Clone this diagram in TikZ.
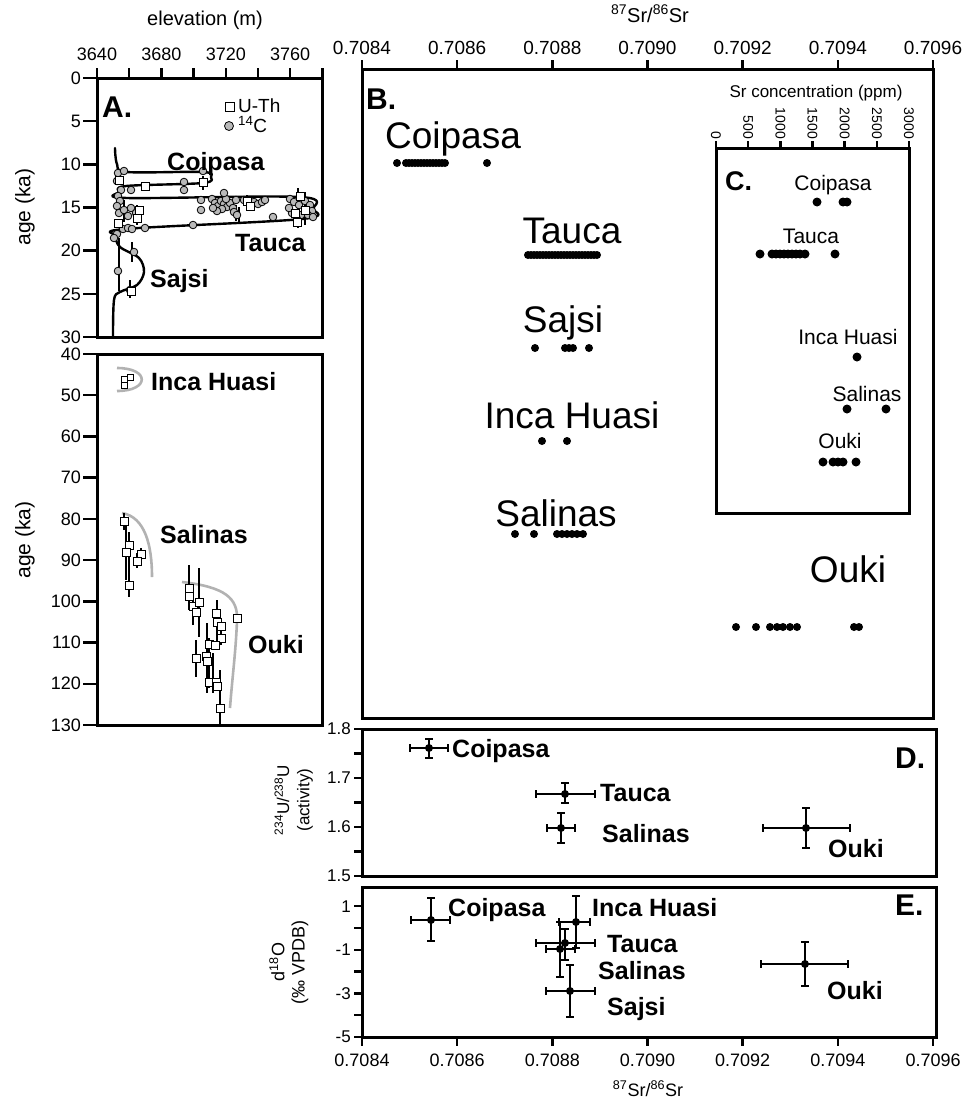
\documentclass[tikz,border=0pt]{standalone}
\usepackage{fontspec}
\setmainfont{Liberation Sans}
\usetikzlibrary{positioning}
\newcommand\sz[1]{\fontsize{#1}{#1}\selectfont}

\begin{document}
\begin{tikzpicture}[x=1pt, y=-1pt,
    frame/.style={line width=3pt},
    tick/.style={line width=2.4pt},
    lake/.style={line width=2.4pt, line join=round, line cap=round},
    glake/.style={line width=2.6pt, gray!60},
    agebar/.style={line width=1.8pt},
    err/.style={line width=1.2pt},
    uth/.style={draw=black, fill=white, line width=1pt},
    carbon/.style={draw=black, fill=gray!55, line width=0.8pt},
    ticklabel/.style={font=\sz{18}, inner sep=1pt},
    bigname/.style={font=\sz{37}, inner sep=0pt, anchor=base},
    smallname/.style={font=\sz{21}, inner sep=0pt, anchor=base},
    boldname/.style={font=\bfseries\sz{25}, inner sep=0pt, anchor=base west},
    panel/.style={font=\bfseries\sz{30}, inner sep=0pt, anchor=base west},
  ]
\useasboundingbox (0,0) rectangle (964,1103);

% ---- panel A, upper part
\draw[frame] (97,78) rectangle (322,337);
\foreach \k in {0,...,7}
  \draw[tick] (97+\k*32.2,78) -- ++(0,-10);
\foreach \e [count=\i from 0] in {3640,3680,3720,3760}
  \node[ticklabel, anchor=base] (el\e) at (97+\i*64.4,60) {\e};
\node[font=\sz{20}, anchor=base] (elev) at (205,25) {elevation (m)};
\foreach \a in {0,5,...,30}
  \draw[tick] (97,78+\a*8.633) -- ++(-14,0) node[ticklabel, anchor=east] (agt\a) {\a};
\node[font=\sz{21}, rotate=90] (ageA) at (25,207) {age (ka)};
\node[panel] (labA) at (102,117) {A.};

% lake level curve
\draw[lake] plot[smooth, tension=0.55] coordinates {(115,148) (117,164) (127,172) (203,172)
  (211,177) (203,183) (126,186) (119,192) (127,198) (300,197) (313,209) (302,219) (125,229)
  (116,236) (120,247) (139,258) (144,272) (137,285) (120,292) (114,300) (113,337)};

\foreach \x/\ya/\yb in {132/242/262, 119/238/291, 130/280/298, 203/176/190, 298/188/228,
    305/192/225, 236/205/221, 239/207/223, 247/195/210, 137/205/225, 124/200/222, 184/180/193}
  \draw[agebar] (\x,\ya) -- (\x,\yb);
\foreach \x/\y in {118/173, 124/171, 117/181, 121/190, 131/190, 118/196, 184/182, 184/190, 203/171,
    201/200, 201/210, 212/199, 215/203, 218/206, 221/201, 224/204, 227/207, 222/209, 217/211,
    213/208, 230/203, 233/208, 226/199, 236/200, 224/193, 234/212, 237/215, 244/200, 254/202,
    258/204, 262/202, 265/200, 290/199, 294/202, 299/205, 305/201, 310/205, 312/211, 308/215,
    301/215, 292/213, 297/219, 289/208, 313/217, 273/217, 193/225, 120/201, 117/206, 119/213,
    124/210, 128/216, 131/208, 136/213, 145/228, 123/229, 128/228, 132/229, 117/234, 114/238,
    134/252, 118/271, 130/290}
  \draw[carbon] (\x,\y) circle (3.8pt);
\foreach \x/\y in {119/180, 145/186, 203/182, 247/201, 250/206, 300/196, 305/210, 295/213,
    297/222, 139/210, 137/218, 118/223, 131/291}
  \draw[uth] (\x,\y) +(-4pt,-4pt) rectangle +(4pt,4pt);

% legend
\draw[uth] (230,107) +(-4.5pt,-4.5pt) rectangle +(4.5pt,4.5pt);
\node[font=\sz{19}, inner sep=0pt, anchor=base west] (legU) at (238,112) {U-Th};
\draw[carbon] (229,126) circle (4.5pt);
\node[font=\sz{19}, inner sep=0pt, anchor=base west] (legC) at (238,132) {\textsuperscript{14}C};

\node[boldname] (coipA) at (167,170) {Coipasa};
\node[boldname] (taucaA) at (235,251) {Tauca};
\node[boldname] (sajsiA) at (150,287) {Sajsi};

% ---- panel A, lower part
\draw[frame] (97,354) rectangle (322,725);
\foreach \a in {40,50,...,130}
  \draw[tick] (97,{354+(\a-40)*4.122}) -- ++(-14,0) node[ticklabel, anchor=east] (agb\a) {\a};
\node[font=\sz{21}, rotate=90] (ageB) at (25,540) {age (ka)};

\draw[glake] (117,368) .. controls (150,368) and (150,391) .. (117,391);
\draw[glake] (122,513) .. controls (145,517) and (152,545) .. (152,577);
\draw[glake] (182,582) .. controls (225,587) and (238,598) .. (237,620)
  .. controls (236,650) and (232,680) .. (230,708);

\foreach \x/\ya/\yb in {124/513/530, 126/525/580, 129/532/597, 137/553/568, 141/548/560,
    189/565/610, 199/568/637, 196/640/677, 207/623/693, 213/653/693, 217/600/647,
    220/670/725, 221/620/645, 209/638/688, 193/600/625}
  \draw[agebar] (\x,\ya) -- (\x,\yb);
\foreach \x/\y in {124/385, 124/379, 130/377}
  \draw[uth] (\x,\y) +(-3pt,-3pt) rectangle +(3pt,3pt);
\foreach \x/\y in {124/521, 129/545, 126/552, 141/554, 137/561, 129/585,
    189/588, 189/596, 193/606, 196/612, 199/602, 196/658, 206/656, 207/661, 209/644,
    216/613, 217/622, 221/626, 221/638, 215/645, 209/682, 216/682, 217/686, 220/708, 237/618}
  \draw[uth] (\x,\y) +(-4pt,-4pt) rectangle +(4pt,4pt);

\node[boldname] (incaA) at (151,390) {Inca Huasi};
\node[boldname] (salA) at (160,543) {Salinas};
\node[boldname] (oukiA) at (248,653) {Ouki};

% ---- panel B
\draw[frame] (362,69) rectangle (933,718);
\foreach \r [count=\i from 0] in {0.7084,0.7086,0.7088,0.7090,0.7092,0.7094,0.7096} {
  \draw[tick] (362+\i*95.17,69) -- ++(0,-9);
  \node[ticklabel, font=\sz{19}, anchor=base] (bt\i) at (362+\i*95.17,54) {\r};
}
\node[font=\sz{20}, anchor=base] (srB) at (650,22) {\textsuperscript{87}Sr/\textsuperscript{86}Sr};
\node[panel] (labB) at (366,109) {B.};

\node[bigname] (coipB) at (453,148) {Coipasa};
\fill (397,163) circle (4pt) (487,163) circle (4pt);
\foreach \x in {406,409,...,445} \fill (\x,163) circle (4pt);
\node[bigname] (taucaB) at (572,243) {Tauca};
\foreach \x in {528,531,...,597} \fill (\x,255) circle (4pt);
\node[bigname] (sajsiB) at (563,332) {Sajsi};
\foreach \x in {535,565,569,573,589} \fill (\x,348) circle (4pt);
\node[bigname] (incaB) at (572,428) {Inca Huasi};
\foreach \x in {542,567} \fill (\x,441) circle (4pt);
\node[bigname] (salB) at (556,526) {Salinas};
\foreach \x in {515,534,557,562,567,572,577,583} \fill (\x,534) circle (4pt);
\node[bigname] (oukiB) at (848,582) {Ouki};
\foreach \x in {736,756,770,777,783,790,797,854,859} \fill (\x,627) circle (4pt);

% ---- panel C
\draw[frame] (716,148) rectangle (909,513);
\foreach \c [count=\i from 0] in {0,500,1000,1500,2000,2500,3000} {
  \draw[tick] (716+\i*32.17,148) -- ++(0,-7);
  \node[font=\sz{14}, inner sep=1pt, rotate=-90, anchor=east] (ct\i) at (716+\i*32.17,140) {\c};
}
\node[font=\sz{17}, anchor=base] (srC) at (816,97) {Sr concentration (ppm)};
\node[panel, font=\bfseries\sz{27}] (labC) at (725,190) {C.};

\node[smallname] (coipC) at (833,190) {Coipasa};
\foreach \x in {817,843,847} \fill (\x,202) circle (4.5pt);
\node[smallname] (taucaC) at (811,243) {Tauca};
\foreach \x in {760,772,776,780,784,788,792,796,800,805,835} \fill (\x,254) circle (4.5pt);
\node[smallname] (incaC) at (848,344) {Inca Huasi};
\fill (857,357) circle (4.5pt);
\node[smallname] (salC) at (867,401) {Salinas};
\foreach \x in {847,886} \fill (\x,409) circle (4.5pt);
\node[smallname] (oukiC) at (840,448) {Ouki};
\foreach \x in {823,833,838,843,856} \fill (\x,462) circle (4.5pt);

% ---- panel D
\draw[frame] (362,729) rectangle (936,876);
\foreach \k in {0,...,6}
  \draw[tick] (362,729+\k*24.5) -- ++(-8,0);
\foreach \k/\v in {0/1.8,2/1.7,4/1.6,6/1.5}
  \node[ticklabel, font=\sz{17}, anchor=east] (dt\k) at (352,729+\k*24.5) {\v};
\node[font=\sz{17}, rotate=90] (uD) at (282,800) {\textsuperscript{234}U/\textsuperscript{238}U};
\node[font=\sz{17}, rotate=90] (actD) at (305,800) {(activity)};
\node[panel] (labD) at (895,768) {D.};

\foreach \px/\py/\xa/\xb/\ya/\yb in {429/748/410/448/739/758, 565/794/536/595/783/803,
    561/828/547/575/813/843, 806/828/763/850/808/848} {
  \draw[err] (\xa,\py) -- (\xb,\py) (\px,\ya) -- (\px,\yb)
    (\xa,\py-4) -- (\xa,\py+4) (\xb,\py-4) -- (\xb,\py+4)
    (\px-4,\ya) -- (\px+4,\ya) (\px-4,\yb) -- (\px+4,\yb);
  \fill (\px,\py) circle (4pt);
}
\node[boldname] (coipD) at (452,757) {Coipasa};
\node[boldname] (taucaD) at (600,801) {Tauca};
\node[boldname] (salD) at (602,842) {Salinas};
\node[boldname] (oukiD) at (828,857) {Ouki};

% ---- panel E
\draw[frame] (362,887) rectangle (936,1037);
\foreach \k in {0,...,6}
  \draw[tick] (362,1037-\k*21.8) -- ++(-8,0);
\foreach \k/\v in {0/-5,2/-3,4/-1,6/1}
  \node[ticklabel, font=\sz{17}, anchor=east] (et\k) at (352,1037-\k*21.8) {\v};
\foreach \r [count=\i from 0] in {0.7084,0.7086,0.7088,0.7090,0.7092,0.7094,0.7096} {
  \draw[tick] (362+\i*95.17,1037) -- ++(0,9);
  \node[ticklabel, anchor=base] (eb\i) at (362+\i*95.17,1066) {\r};
}
\node[font=\sz{18}, anchor=base] (srE) at (648,1096) {\textsuperscript{87}Sr/\textsuperscript{86}Sr};
\node[font=\sz{18}, rotate=90] (dE) at (277,962) {d\textsuperscript{18}O};
\node[font=\sz{18}, rotate=90] (vpdbE) at (300,962) {(‰ VPDB)};
\node[panel] (labE) at (895,915) {E.};

\foreach \px/\py/\xa/\xb/\ya/\yb in {431/920/411/450/898/941, 576/922/559/590/896/948,
    565/943/536/595/929/960, 560/949/546/575/922/977, 570/991/546/595/965/1017,
    805/964/761/848/942/986} {
  \draw[err] (\xa,\py) -- (\xb,\py) (\px,\ya) -- (\px,\yb)
    (\xa,\py-4) -- (\xa,\py+4) (\xb,\py-4) -- (\xb,\py+4)
    (\px-4,\ya) -- (\px+4,\ya) (\px-4,\yb) -- (\px+4,\yb);
  \fill (\px,\py) circle (4pt);
}
\node[boldname] (coipE) at (448,916) {Coipasa};
\node[boldname] (incaE) at (592,916) {Inca Huasi};
\node[boldname] (taucaE) at (607,952) {Tauca};
\node[boldname] (salE) at (598,979) {Salinas};
\node[boldname] (sajsiE) at (607,1015) {Sajsi};
\node[boldname] (oukiE) at (827,999) {Ouki};
\end{tikzpicture}
\end{document}
